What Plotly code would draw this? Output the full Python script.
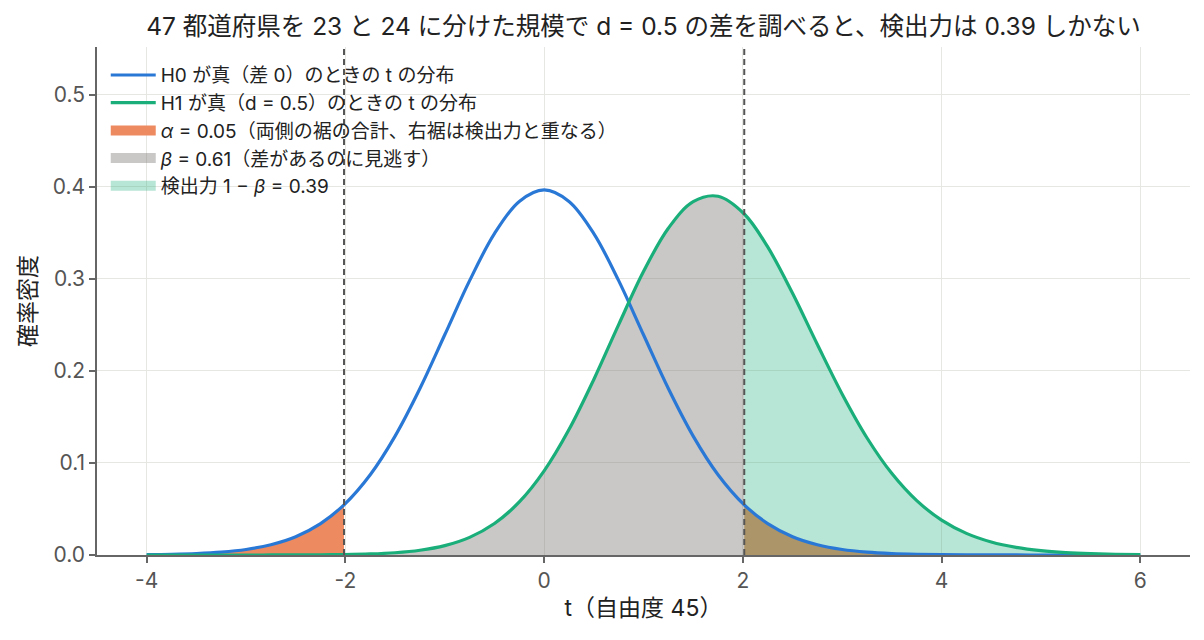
import plotly.graph_objects as go

# t values (df = 45); ±2.014 = two-sided 5% critical values
t_vals = [-4.0, -3.75, -3.5, -3.25, -3.0, -2.75, -2.5, -2.25, -2.014, -1.75,
          -1.5, -1.25, -1.0, -0.75, -0.5, -0.25, 0.0, 0.25, 0.5, 0.75,
          1.0, 1.25, 1.5, 1.75, 2.014, 2.25, 2.5, 2.75, 3.0, 3.25,
          3.5, 3.75, 4.0, 4.25, 4.5, 4.75, 5.0, 5.25, 5.5, 5.75, 6.0]
# density under H0 (central t)
h0_density = [0.00036, 0.00076, 0.00156, 0.00311, 0.00599, 0.01114, 0.01993, 0.03417, 0.0545, 0.08725,
              0.1292, 0.1809, 0.2393, 0.2981, 0.3492, 0.3842, 0.3967, 0.3842, 0.3492, 0.2981,
              0.2393, 0.1809, 0.1292, 0.08725, 0.0545, 0.03417, 0.01993, 0.01114, 0.00599, 0.00311,
              0.00156, 0.00076, 0.00036, 0.00017, 0.00008, 0.00003, 0.00002, 0.00001, 0.0, 0.0, 0.0]
# density under H1 (d = 0.5)
h1_density = [0.0, 0.0, 0.0, 0.0, 0.00001, 0.00003, 0.00009, 0.00022, 0.00048, 0.00114,
              0.00247, 0.00514, 0.01019, 0.01919, 0.03421, 0.05761, 0.0914, 0.13628, 0.19075, 0.25036,
              0.30797, 0.35507, 0.38395, 0.38981, 0.37052, 0.33473, 0.28436, 0.22872, 0.17473, 0.12716,
              0.08845, 0.05902, 0.03791, 0.02351, 0.01414, 0.00827, 0.00472, 0.00264, 0.00145, 0.00078, 0.00042]
t_crit = 2.014

title_text = "47 都道府県を 23 と 24 に分けた規模で d = 0.5 の差を調べると、検出力は 0.39 しかない"
label_h0 = "H0 が真（差 0）のときの t の分布"
label_h1 = "H1 が真（d = 0.5）のときの t の分布"
label_alpha = "<i>α</i> = 0.05（両側の裾の合計、右裾は検出力と重なる）"
label_beta = "<i>β</i> = 0.61（差があるのに見逃す）"
label_power = "検出力 1 − <i>β</i> = 0.39"

FONT = "Inter, Noto Sans CJK JP, sans-serif"
BLUE = "#2a78d6"
GREEN = "#1aae7a"
ORANGE = "rgb(238,138,96)"
GRAY_FILL = "rgba(120,118,116,0.4)"
GREEN_FILL = "rgba(26,174,122,0.31)"

PLOT_L, PLOT_R = 97, 1190


def subset(xs, ys, cond):
    pts = [(x, y) for x, y in zip(xs, ys) if cond(x)]
    return [p[0] for p in pts], [p[1] for p in pts]


fig = go.Figure()

ax_l, ay_l = subset(t_vals, h0_density, lambda x: x <= -t_crit + 1e-9)
ax_r, ay_r = subset(t_vals, h0_density, lambda x: x >= t_crit - 1e-9)
bx, by = subset(t_vals, h1_density, lambda x: x <= t_crit + 1e-9)
px, py = subset(t_vals, h1_density, lambda x: x >= t_crit - 1e-9)

for xs, ys, col in ((ax_l, ay_l, ORANGE), (ax_r, ay_r, ORANGE), (bx, by, GRAY_FILL), (px, py, GREEN_FILL)):
    fig.add_trace(go.Scatter(x=xs, y=ys, mode="lines", fill="tozeroy", fillcolor=col,
                             line=dict(width=0, shape="spline"), showlegend=False, hoverinfo="skip"))

fig.add_trace(go.Scatter(x=t_vals, y=h0_density, mode="lines",
                         line=dict(color=BLUE, width=3.2, shape="spline"), name=label_h0,
                         legendgroup="h0", legendrank=1))
fig.add_trace(go.Scatter(x=t_vals, y=h1_density, mode="lines",
                         line=dict(color=GREEN, width=3.2, shape="spline"), name=label_h1,
                         legendgroup="h1", legendrank=2))

# legend swatches for the shaded areas
for name, col, grp, rank in ((label_alpha, ORANGE, "a", 3), (label_beta, GRAY_FILL, "b", 4),
                             (label_power, GREEN_FILL, "p", 5)):
    fig.add_trace(go.Scatter(x=[None], y=[None], mode="lines", line=dict(color=col, width=14),
                             name=name, legendgroup=grp, legendrank=rank, hoverinfo="skip"))

for xc in (-t_crit, t_crit):
    fig.add_shape(type="line", x0=xc, x1=xc, xref="x", y0=0, y1=1, yref="paper",
                  line=dict(color="#555555", width=2, dash="6px,4px"), layer="above")

fig.add_annotation(text="確率密度", textangle=-90, xref="paper", yref="paper",
                   x=(28 - PLOT_L) / (PLOT_R - PLOT_L), y=0.5, xanchor="center", yanchor="middle",
                   showarrow=False, font=dict(size=23, color="#222222"))

fig.update_layout(
    width=1204, height=640,
    margin=dict(l=PLOT_L, r=1204 - PLOT_R, t=47, b=85),
    paper_bgcolor="white", plot_bgcolor="white",
    font=dict(family=FONT, size=18, color="#222222"),
    title=dict(text=title_text, x=(PLOT_L + PLOT_R) / 2 / 1204, xanchor="center", y=0.958, yanchor="middle",
               font=dict(size=24.5, color="#222222")),
    showlegend=True,
    legend=dict(x=0.008, y=0.982, xanchor="left", yanchor="top", bgcolor="rgba(0,0,0,0)",
                font=dict(size=19, color="#222222"), tracegroupgap=4, traceorder="normal",
                itemwidth=45),
)
fig.update_xaxes(range=[-4.5, 6.5], tickvals=[-4, -2, 0, 2, 4, 6], ticktext=["-4", "-2", "0", "2", "4", "6"],
                 showgrid=True, gridcolor="#e6e6e3", gridwidth=1, zeroline=False,
                 showline=True, linecolor="#666666", linewidth=1.5,
                 ticks="outside", ticklen=6, tickcolor="#666666", tickwidth=1.5,
                 tickfont=dict(size=21, color="#555555"),
                 title=dict(text="t（自由度 45）", font=dict(size=23, color="#222222"), standoff=8))
fig.update_yaxes(range=[0, 0.552], tickvals=[0, 0.1, 0.2, 0.3, 0.4, 0.5],
                 ticktext=["0.0", "0.1", "0.2", "0.3", "0.4", "0.5"],
                 showgrid=True, gridcolor="#e6e6e3", gridwidth=1, zeroline=False,
                 showline=True, linecolor="#666666", linewidth=1.5,
                 ticks="outside", ticklen=6, tickcolor="#666666", tickwidth=1.5,
                 tickfont=dict(size=21, color="#555555"))

fig.write_html("out.html")
